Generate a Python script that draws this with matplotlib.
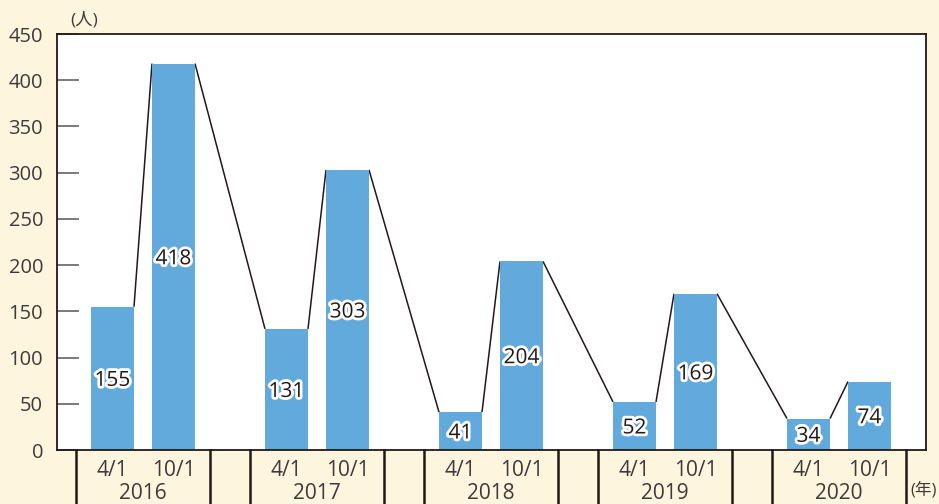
import matplotlib.pyplot as plt
import matplotlib.patheffects as pe
from matplotlib.transforms import blended_transform_factory, ScaledTranslation

plt.rcParams["font.family"] = ["Open Sans", "Noto Sans CJK JP", "DejaVu Sans"]

years = ["2016", "2017", "2018", "2019", "2020"]
dates = ["4/1", "10/1"]
april = [155, 131, 41, 52, 34]
october = [418, 303, 204, 169, 74]
yticks = [0, 50, 100, 150, 200, 250, 300, 350, 400, 450]

bg = "#fef5df"
bar_color = "#62a9dc"
text_color = "#3e3a39"
dark = "#231815"

fig = plt.figure(figsize=(9.39, 5.04), dpi=100, facecolor=bg)
ax = fig.add_axes([57 / 939, 1 - 450 / 504, 869 / 939, 416 / 504])
ax.set_facecolor("white")

off = 30.5 / 174
w = 43 / 174
box = 67 / 174

xa = [i - off for i in range(len(years))]
xo = [i + off for i in range(len(years))]
ax.bar(xa, april, width=w, color=bar_color, zorder=2)
ax.bar(xo, october, width=w, color=bar_color, zorder=2)

# slanted lines joining the top corners of neighbouring bars
tops = []
for i in range(len(years)):
    tops.append((xa[i], april[i]))
    tops.append((xo[i], october[i]))
for (x0, y0), (x1, y1) in zip(tops[:-1], tops[1:]):
    ax.plot([x0 + w / 2, x1 - w / 2], [y0, y1], color=dark, lw=1.1, zorder=1,
            solid_capstyle="butt")

stroke = [pe.withStroke(linewidth=4, foreground="white")]
down = ax.transData + ScaledTranslation(0, -2 / 100, fig.dpi_scale_trans)
for x, v in tops:
    ax.text(x, v / 2, str(v), ha="center", va="center", fontsize=15,
            color="#231815", fontweight="medium", path_effects=stroke, zorder=3,
            transform=down)

ax.set_xlim(-86 / 174, 783 / 174)
ax.set_ylim(0, 450)
ax.set_yticks(yticks)
ax.tick_params(axis="y", direction="in", length=15.8, width=1.4, color="#7a7a7a",
               labelsize=14.5, labelcolor=text_color, pad=10)
ax.set_xticks([])
for s in ax.spines.values():
    s.set_color(dark)
    s.set_linewidth(1.3)

# category boxes under the axis
tr = blended_transform_factory(ax.transData, ax.transAxes)
for i, yr in enumerate(years):
    for edge in (i - box, i + box):
        ax.plot([edge, edge], [0, -0.2], transform=tr, color=dark, lw=1.8,
                clip_on=False)
    for x, d in zip((xa[i], xo[i]), dates):
        ax.text(x, -0.05, d, transform=tr, ha="center", va="center",
                fontsize=15, color=text_color)
    ax.text(i, -0.105, yr, transform=tr, ha="center", va="center",
            fontsize=15, color=text_color)

fig.text(84 / 939, 1 - 20 / 504, "(人)", ha="center", va="center",
         fontsize=12.5, color=text_color)
fig.text(924 / 939, 1 - 490 / 504, "(年)", ha="center", va="center",
         fontsize=12, color=text_color)

fig.savefig("out.png", dpi=100, facecolor=bg)
